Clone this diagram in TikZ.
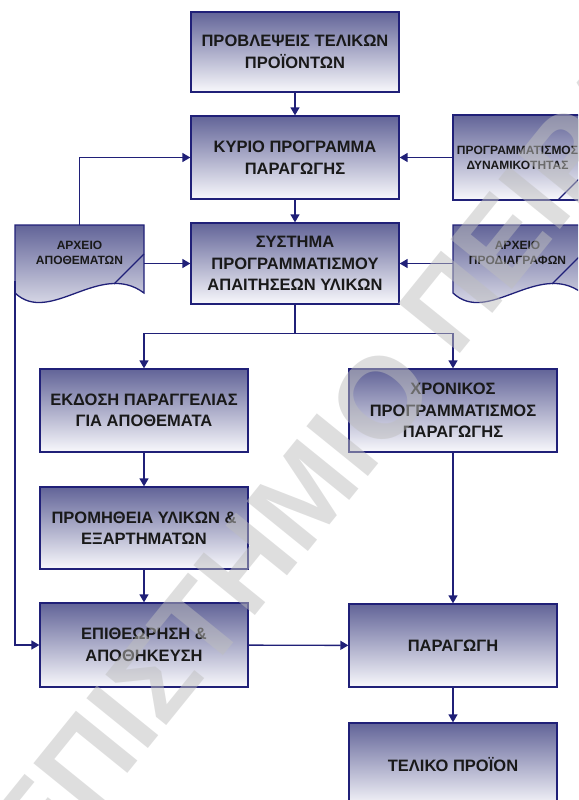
\documentclass[tikz,border=0pt]{standalone}
\usepackage{fontspec}
\setmainfont{Liberation Sans}
\usetikzlibrary{arrows.meta}

\definecolor{navy}{RGB}{32,32,120}
\definecolor{boxtop}{RGB}{98,100,152}
\definecolor{boxbot}{RGB}{248,248,252}
\definecolor{ink}{RGB}{25,25,25}
\definecolor{wmgray}{RGB}{190,190,190}

\tikzset{
  flowbox/.style={draw=navy, line width=1.3pt, top color=boxtop, bottom color=boxbot,
    minimum width=208pt, minimum height=83pt, align=center, text=ink,
    font=\fontsize{16.5}{21.5}\selectfont\bfseries, inner sep=2pt},
  smallbox/.style={flowbox, minimum width=129pt, minimum height=85pt,
    font=\fontsize{12}{15}\selectfont\bfseries},
  doclabel/.style={minimum width=129pt, minimum height=56pt, align=center, text=ink,
    font=\fontsize{12}{15}\selectfont\bfseries, inner sep=0pt},
  docshape/.style={draw=navy, line width=1.3pt, top color=boxtop, bottom color=boxbot},
  link/.style={draw=navy, line width=1.4pt},
  arr/.style={link, -{Triangle[length=8pt,width=9pt]}},
  watermark/.style={text=wmgray, text opacity=0.5, inner sep=0pt, rotate=51,
    font=\fontsize{115}{115}\selectfont\bfseries}
}

\begin{document}
\begin{tikzpicture}[x=1pt, y=-1pt]
\useasboundingbox (0,0) rectangle (578,800);
\clip (0,0) rectangle (578,800);

% main column
\node[flowbox, minimum height=80pt] (b1) at (295,52) {ΠΡΟΒΛΕΨΕΙΣ ΤΕΛΙΚΩΝ\\ΠΡΟΪΟΝΤΩΝ};
\node[flowbox] (b2) at (295,157.5) {ΚΥΡΙΟ ΠΡΟΓΡΑΜΜΑ\\ΠΑΡΑΓΩΓΗΣ};
\node[flowbox, minimum height=81pt] (b3) at (295,263.5) {ΣΥΣΤΗΜΑ\\ΠΡΟΓΡΑΜΜΑΤΙΣΜΟΥ\\ΑΠΑΙΤΗΣΕΩΝ ΥΛΙΚΩΝ};

% left branch
\node[flowbox] (ek) at (144,410.5) {ΕΚΔΟΣΗ ΠΑΡΑΓΓΕΛΙΑΣ\\ΓΙΑ ΑΠΟΘΕΜΑΤΑ};
\node[flowbox, minimum height=82pt] (pr) at (144,528) {ΠΡΟΜΗΘΕΙΑ ΥΛΙΚΩΝ \&\\ΕΞΑΡΤΗΜΑΤΩΝ};
\node[flowbox, minimum height=84pt] (ep) at (144,645) {ΕΠΙΘΕΩΡΗΣΗ \&\\ΑΠΟΘΗΚΕΥΣΗ};

% right branch
\node[flowbox] (xr) at (453,410.5) {ΧΡΟΝΙΚΟΣ\\ΠΡΟΓΡΑΜΜΑΤΙΣΜΟΣ\\ΠΑΡΑΓΩΓΗΣ};
\node[flowbox] (pa) at (453,645.5) {ΠΑΡΑΓΩΓΗ};
\node[flowbox, minimum height=84pt] (te) at (453,765) {ΤΕΛΙΚΟ ΠΡΟΪΟΝ};

% stock file (document shape)
\path[docshape] (15,225) -- (144,225) -- (144,293)
  .. controls (100,260) and (50,326) .. (15,293) -- cycle;
\draw[navy, line width=1.3pt] (114,284) -- (144,254);
\node[doclabel] (stk) at (79.5,253) {ΑΡΧΕΙΟ\\ΑΠΟΘΕΜΑΤΩΝ};

% capacity planning (card shape)
\node[smallbox] (r1) at (517.5,157.5) {ΠΡΟΓΡΑΜΜΑΤΙΣΜΟΣ\\ΔΥΝΑΜΙΚΟΤΗΤΑΣ};
\draw[navy, line width=1.3pt] (558,200) -- (582,176);

% specifications file (document shape)
\path[docshape] (453,225) -- (582,225) -- (582,293)
  .. controls (538,260) and (488,326) .. (453,293) -- cycle;
\draw[navy, line width=1.3pt] (552,284) -- (582,254);
\node[doclabel] (spec) at (517.5,253) {ΑΡΧΕΙΟ\\ΠΡΟΔΙΑΓΡΑΦΩΝ};

% connectors
\draw[arr] (b1) -- (b2);
\draw[arr] (b2) -- (b3);
\draw[arr] (r1.west) -- (b2.east);
\draw[arr] (spec.west |- b3.east) -- (b3.east);
\draw[arr] (stk.north) |- (b2.west);
\draw[arr] (stk.east |- b3.west) -- (b3.west);
\draw[arr] (stk.south west) |- (ep.west);
\draw[link] (b3.south) -- ++(0,29) coordinate (fork);
\draw[arr] (fork) -| (ek.north);
\draw[arr] (fork) -| (xr.north);
\draw[arr] (ek) -- (pr);
\draw[arr] (pr) -- (ep);
\draw[arr] (ep) -- (pa);
\draw[arr] (xr) -- (pa);
\draw[arr] (pa) -- (te);

% watermark
\node[watermark, anchor=base east] (wm1) at (440,388) {ΠΑΝΕΠΙΣΤΗΜΙΟ};
\node[watermark, anchor=base west] (wm2) at (455,360) {ΠΕΙΡΑΙΩΣ};
\end{tikzpicture}
\end{document}
